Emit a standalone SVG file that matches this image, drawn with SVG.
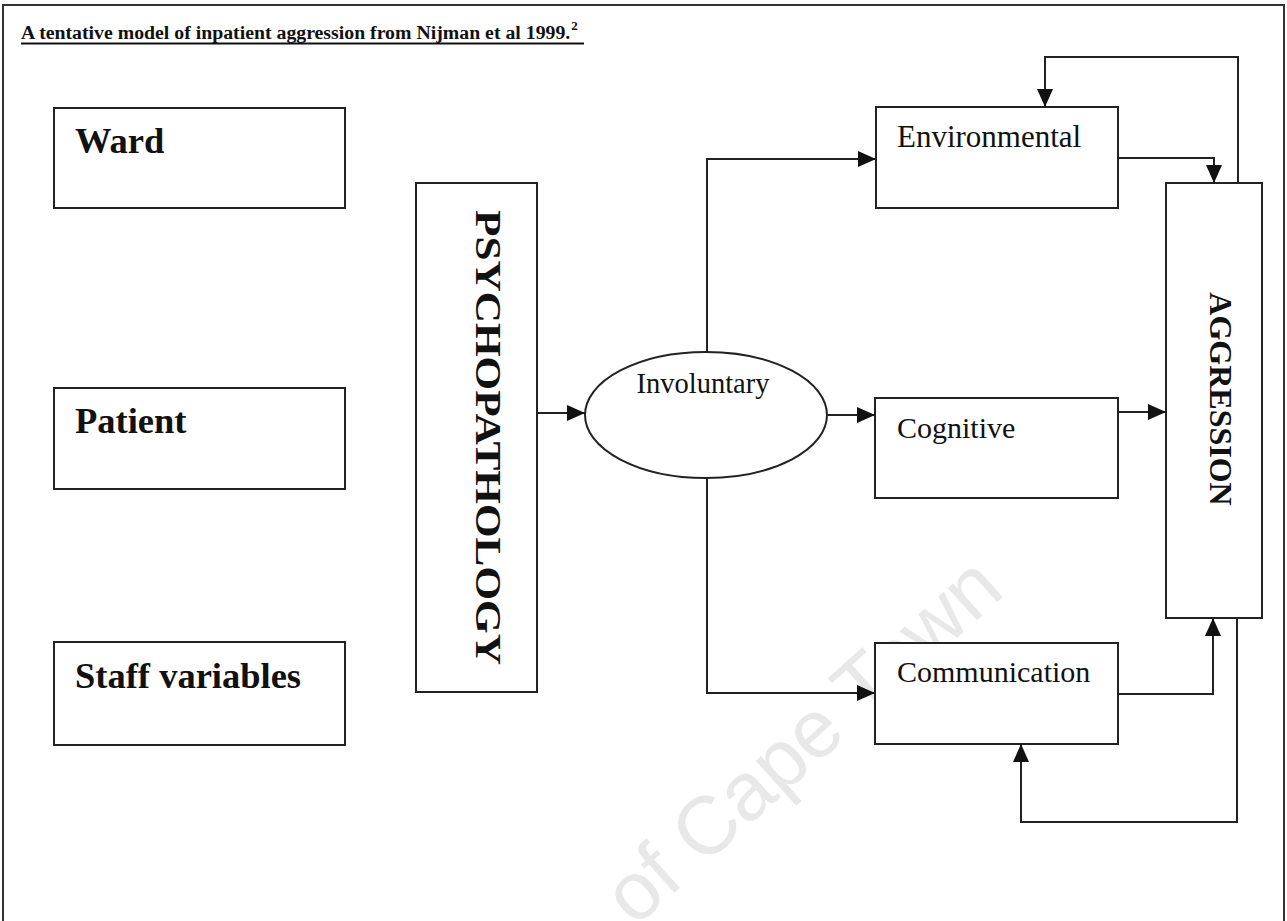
<svg xmlns="http://www.w3.org/2000/svg" width="1287" height="921" viewBox="0 0 1287 921">
<style>
  .box { fill: #fff; stroke: #222; stroke-width: 2; }
  .line { fill: none; stroke: #222; stroke-width: 2; }
  .lbl { font-family: "Liberation Serif", "Times New Roman", serif; fill: #111; }
  .big { font-weight: bold; font-size: 36.5px; }
  .reg { font-size: 30px; }
</style>
<defs>
  <marker id="ah" markerUnits="userSpaceOnUse" markerWidth="18" markerHeight="16" refX="18" refY="8" orient="auto">
    <path d="M0,0 L18,8 L0,16 z" fill="#111"/>
  </marker>
</defs>
<rect x="0" y="0" width="1287" height="921" fill="#fff"/>
<text x="635" y="928" transform="rotate(-42 635 928)" font-family="Liberation Sans, Arial, sans-serif" font-size="82" fill="#e8e8e8">of Cape Town</text>
<rect x="3" y="5" width="1281" height="940" fill="none" stroke="#333" stroke-width="2"/>
<g id="title">
  <text class="lbl" x="21" y="39" font-size="19.8" font-weight="bold">A tentative model of inpatient aggression from Nijman et al 1999.<tspan dx="1" dy="-9" font-size="13">2</tspan></text>
  <line x1="21" y1="43.5" x2="584" y2="43.5" stroke="#111" stroke-width="2"/>
</g>
<g id="ward"><rect class="box" x="54" y="108" width="291" height="100"/><text class="lbl big" x="75" y="153">Ward</text></g>
<g id="patient"><rect class="box" x="54" y="388" width="291" height="101"/><text class="lbl big" x="75" y="433">Patient</text></g>
<g id="staff"><rect class="box" x="54" y="642" width="291" height="103"/><text class="lbl big" x="75" y="688">Staff variables</text></g>
<g id="psychopathology"><rect class="box" x="416" y="183" width="121" height="509"/>
  <text class="lbl" transform="translate(476 437.5) rotate(90)" text-anchor="middle" font-size="36" font-weight="bold" textLength="455" lengthAdjust="spacingAndGlyphs">PSYCHOPATHOLOGY</text></g>
<g id="involuntary"><ellipse class="box" cx="706" cy="415" rx="121" ry="63"/><text class="lbl" x="703" y="393" font-size="28.5" text-anchor="middle">Involuntary</text></g>
<g id="environmental"><rect class="box" x="876" y="107" width="242" height="101"/><text class="lbl" x="897" y="147" font-size="31">Environmental</text></g>
<g id="cognitive"><rect class="box" x="875" y="398" width="243" height="100"/><text class="lbl reg" x="897" y="438">Cognitive</text></g>
<g id="communication"><rect class="box" x="875" y="643" width="243" height="101"/><text class="lbl reg" x="897" y="682">Communication</text></g>
<g id="aggression"><rect class="box" x="1166" y="183" width="96" height="435"/>
  <text class="lbl" transform="translate(1210 399) rotate(90)" text-anchor="middle" font-size="32" font-weight="bold">AGGRESSION</text></g>
<g id="connectors">
  <path class="line" d="M537,413 H585" marker-end="url(#ah)"/>
  <path class="line" d="M707,352 V159 H876" marker-end="url(#ah)"/>
  <path class="line" d="M707,478 V693 H875" marker-end="url(#ah)"/>
  <path class="line" d="M827,415 H875" marker-end="url(#ah)"/>
  <path class="line" d="M1118,412 H1166" marker-end="url(#ah)"/>
  <path class="line" d="M1118,158 H1214 V183" marker-end="url(#ah)"/>
  <path class="line" d="M1118,694 H1213 V618" marker-end="url(#ah)"/>
  <path class="line" d="M1238,183 V57 H1045 V107" marker-end="url(#ah)"/>
  <path class="line" d="M1237,618 V822 H1021 V744" marker-end="url(#ah)"/>
</g>
</svg>
